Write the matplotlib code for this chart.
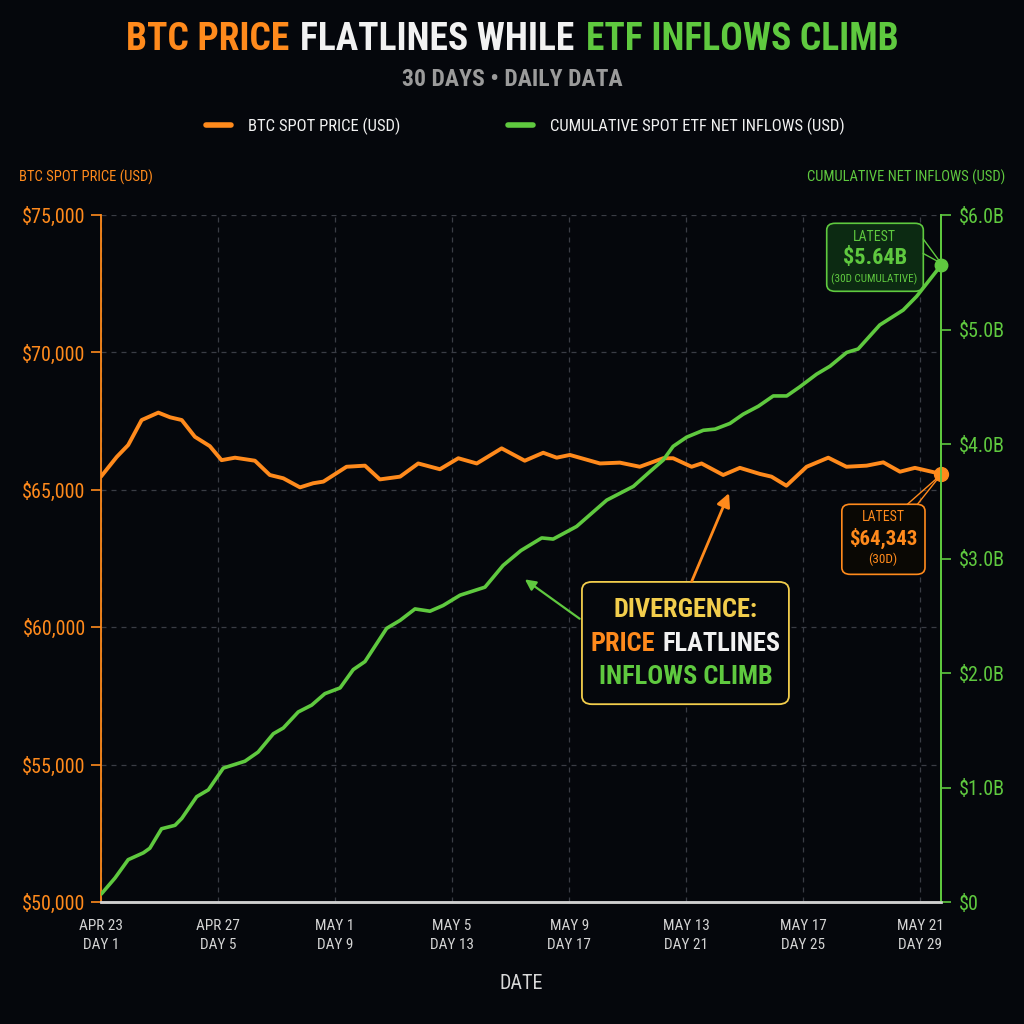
import numpy as np
import matplotlib.pyplot as plt
from matplotlib.patches import FancyBboxPatch
from matplotlib.offsetbox import TextArea, HPacker, AnnotationBbox

# colours
BG = '#05070c'
ORANGE = '#ff8a1c'
GREEN = '#5fc93f'
YELLOW = '#f2cd4c'
WHITE = '#f2f2f2'
GRAY = '#9b9b9b'
GRID = '#3a3d45'

plt.rcParams['font.family'] = ['Roboto Condensed', 'Oswald', 'Roboto', 'DejaVu Sans']

# data (day index, value)
price_day = [1.0, 1.54, 1.93, 2.39, 2.96, 3.36, 3.76, 4.21, 4.72, 5.12, 5.58, 6.26, 6.77,
             7.23, 7.80, 8.25, 8.60, 9.39, 10.02, 10.53, 11.22, 11.84, 12.58, 13.21, 13.84,
             14.69, 15.48, 16.11, 16.57, 17.02, 18.05, 18.73, 19.41, 20.21, 20.55, 21.18,
             21.52, 22.26, 22.83, 23.51, 23.91, 24.42, 25.11, 25.85, 26.47, 27.16, 27.73,
             28.30, 28.81, 29.70]
price_usd = [65480, 66200, 66630, 67540, 67810, 67640, 67540, 66930, 66590, 66080, 66170,
             66060, 65540, 65420, 65090, 65240, 65300, 65840, 65880, 65380, 65480, 65960,
             65750, 66150, 65960, 66510, 66060, 66350, 66170, 66270, 65960, 65990, 65840,
             66150, 66150, 65840, 65960, 65540, 65800, 65580, 65480, 65150, 65840, 66170,
             65840, 65880, 66000, 65660, 65800, 65580]

flow_day = [1.01, 1.48, 1.93, 2.45, 2.67, 3.07, 3.53, 3.76, 4.27, 4.67, 5.18, 5.92, 6.37,
            6.89, 7.23, 7.74, 8.20, 8.65, 9.17, 9.62, 10.02, 10.76, 11.22, 11.73, 12.24,
            12.69, 13.27, 14.12, 14.74, 15.35, 16.06, 16.45, 17.25, 18.28, 19.19, 19.76,
            20.21, 20.55, 21.01, 21.58, 21.98, 22.49, 22.94, 23.46, 23.97, 24.43, 24.88,
            25.45, 25.91, 26.48, 26.87, 27.61, 28.41, 28.87, 29.70]
flow_bn = [0.07, 0.21, 0.37, 0.43, 0.47, 0.64, 0.67, 0.73, 0.92, 0.98, 1.17, 1.23, 1.31,
           1.47, 1.52, 1.66, 1.72, 1.82, 1.87, 2.03, 2.10, 2.39, 2.46, 2.56, 2.54, 2.59,
           2.68, 2.75, 2.94, 3.07, 3.18, 3.17, 3.28, 3.51, 3.63, 3.76, 3.86, 3.98, 4.06,
           4.12, 4.13, 4.18, 4.26, 4.33, 4.42, 4.42, 4.50, 4.61, 4.68, 4.80, 4.83, 5.04,
           5.17, 5.29, 5.56]

tick_days = [1, 5, 9, 13, 17, 21, 25, 29]
tick_dates = ['APR 23', 'APR 27', 'MAY 1', 'MAY 5', 'MAY 9', 'MAY 13', 'MAY 17', 'MAY 21']
price_ticks = [50000, 55000, 60000, 65000, 70000, 75000]
flow_ticks = [0, 1, 2, 3, 4, 5, 6]

fig = plt.figure(figsize=(10.24, 10.24), dpi=100, facecolor=BG)
ax = fig.add_axes([0.0986, 0.1191, 0.8203, 0.6709], facecolor=BG)
ax2 = ax.twinx()

ax.plot(price_day, price_usd, color=ORANGE, lw=2.8, solid_joinstyle='round',
        solid_capstyle='round', zorder=3)
ax2.plot(flow_day, flow_bn, color=GREEN, lw=2.6, solid_joinstyle='round',
         solid_capstyle='round', zorder=3)
ax.plot(price_day[-1], price_usd[-1], 'o', color=ORANGE, ms=10, zorder=5, clip_on=False)
ax2.plot(flow_day[-1], flow_bn[-1], 'o', color=GREEN, ms=9, zorder=5, clip_on=False)

ax.set_xlim(1, 29.7)
ax.set_ylim(50000, 75000)
ax2.set_ylim(0, 6)

ax.set_xticks(tick_days)
ax.set_xticklabels([f'{d}\nDAY {n}' for d, n in zip(tick_dates, tick_days)],
                   color='#d4d4d4', fontsize=11, linespacing=1.5)
ax.tick_params(axis='x', length=0, pad=12)
ax.set_yticks(price_ticks)
ax.set_yticklabels([f'${v:,.0f}' for v in price_ticks], color=ORANGE, fontsize=14.5)
ax.tick_params(axis='y', color=ORANGE, length=7, width=1.2, pad=4)
ax2.set_yticks(flow_ticks)
ax2.set_yticklabels(['$0'] + [f'${v:.1f}B' for v in flow_ticks[1:]], color=GREEN,
                    fontsize=14.5)
ax2.tick_params(axis='y', color=GREEN, length=7, width=1.2, pad=6)

ax.grid(True, color=GRID, ls=(0, (4, 4)), lw=0.9)
ax.set_axisbelow(True)
for a in (ax, ax2):
    a.spines['top'].set_visible(False)
    a.spines['left'].set_color(ORANGE)
    a.spines['left'].set_linewidth(1.3)
    a.spines['right'].set_color(GREEN)
    a.spines['right'].set_linewidth(1.3)
    a.spines['bottom'].set_color('#cfcfcf')
    a.spines['bottom'].set_linewidth(1.8)
ax2.spines['left'].set_visible(False)

ax.set_xlabel('DATE', color='#d8d8d8', fontsize=14.5, labelpad=16)

# axis titles
fig.text(0.019, 0.827, 'BTC SPOT PRICE (USD)', color=ORANGE, fontsize=10.5, ha='left',
         va='center')
fig.text(0.982, 0.827, 'CUMULATIVE NET INFLOWS (USD)', color=GREEN, fontsize=10.5,
         ha='right', va='center')


def coloured_line(parts, size, weight):
    boxes = [TextArea(t, textprops=dict(color=c, fontsize=size, fontweight=weight))
             for t, c in parts]
    return HPacker(children=boxes, align='baseline', pad=0, sep=size * 0.3)


# title
title = coloured_line([('BTC PRICE', ORANGE), ('FLATLINES WHILE', WHITE),
                       ('ETF INFLOWS CLIMB', GREEN)], 27, 'bold')
fig.add_artist(AnnotationBbox(title, (0.5, 0.961), xycoords='figure fraction',
                              frameon=False, box_alignment=(0.5, 0.5)))
fig.text(0.5, 0.922, '30 DAYS \u2022 DAILY DATA', color=GRAY, fontsize=17,
         fontweight='bold', ha='center', va='center')

# legend
leg = fig.legend(handles=ax.get_lines()[:1] + ax2.get_lines()[:1],
                 labels=['BTC SPOT PRICE (USD)', 'CUMULATIVE SPOT ETF NET INFLOWS (USD)'],
                 loc='center', bbox_to_anchor=(0.513, 0.877), ncol=2, frameon=False,
                 fontsize=12, labelcolor=WHITE, handlelength=1.5, columnspacing=6.5,
                 handletextpad=1.0)
for h in leg.legend_handles:
    h.set_linewidth(4)

# latest flow callout
ax.add_patch(FancyBboxPatch((0.864, 0.889), 0.115, 0.099, transform=ax.transAxes,
                            boxstyle='round,pad=0,rounding_size=0.01',
                            fc='#0c2a12', ec=GREEN, lw=1.2, zorder=6))
ax.plot([0.979, 1.0], [0.965, 0.93], color=GREEN, lw=1, transform=ax.transAxes, zorder=6)
ax.plot([0.979, 1.0], [0.944, 0.93], color=GREEN, lw=1, transform=ax.transAxes, zorder=6)
ax.text(0.921, 0.968, 'LATEST', color=GREEN, fontsize=10, ha='center', va='center',
        transform=ax.transAxes, zorder=7)
ax.text(0.921, 0.937, '$5.64B', color=GREEN, fontsize=16, fontweight='bold', ha='center',
        va='center', transform=ax.transAxes, zorder=7)
ax.text(0.921, 0.906, '(30D CUMULATIVE)', color=GREEN, fontsize=8, ha='center',
        va='center', transform=ax.transAxes, zorder=7)

# latest price callout
ax.add_patch(FancyBboxPatch((0.882, 0.477), 0.099, 0.102, transform=ax.transAxes,
                            boxstyle='round,pad=0,rounding_size=0.01',
                            fc='#0a0804', ec=ORANGE, lw=1.2, zorder=6))
ax.plot([0.960, 1.0], [0.579, 0.622], color=ORANGE, lw=1, transform=ax.transAxes, zorder=6)
ax.plot([0.972, 1.0], [0.579, 0.622], color=ORANGE, lw=1, transform=ax.transAxes, zorder=6)
ax.text(0.931, 0.560, 'LATEST', color=ORANGE, fontsize=10, ha='center', va='center',
        transform=ax.transAxes, zorder=7)
ax.text(0.931, 0.530, '$64,343', color=ORANGE, fontsize=15, fontweight='bold', ha='center',
        va='center', transform=ax.transAxes, zorder=7)
ax.text(0.931, 0.499, '(30D)', color=ORANGE, fontsize=9.5, ha='center', va='center',
        transform=ax.transAxes, zorder=7)

# divergence note
ax.add_patch(FancyBboxPatch((0.5726, 0.288), 0.2464, 0.178, transform=ax.transAxes,
                            boxstyle='round,pad=0,rounding_size=0.012',
                            fc=BG, ec=YELLOW, lw=1.3, zorder=6))
ax.annotate('', xy=(0.749, 0.599), xytext=(0.702, 0.463), xycoords='axes fraction',
            arrowprops=dict(arrowstyle='-|>', color=ORANGE, lw=2, mutation_scale=20), zorder=6)
ax.annotate('', xy=(0.502, 0.472), xytext=(0.5726, 0.410), xycoords='axes fraction',
            arrowprops=dict(arrowstyle='-|>', color=GREEN, lw=1.6, mutation_scale=16), zorder=6)
ax.text(0.696, 0.425, 'DIVERGENCE:', color=YELLOW, fontsize=19, fontweight='bold',
        ha='center', va='center', transform=ax.transAxes, zorder=7)
mid = coloured_line([('PRICE', ORANGE), ('FLATLINES', WHITE)], 19, 'bold')
ab = AnnotationBbox(mid, (0.696, 0.3756), xycoords='axes fraction', frameon=False,
                    box_alignment=(0.5, 0.5), zorder=7)
ax.add_artist(ab)
ax.text(0.696, 0.3275, 'INFLOWS CLIMB', color=GREEN, fontsize=19, fontweight='bold',
        ha='center', va='center', transform=ax.transAxes, zorder=7)

fig.savefig('out.png', dpi=100, facecolor=BG)
